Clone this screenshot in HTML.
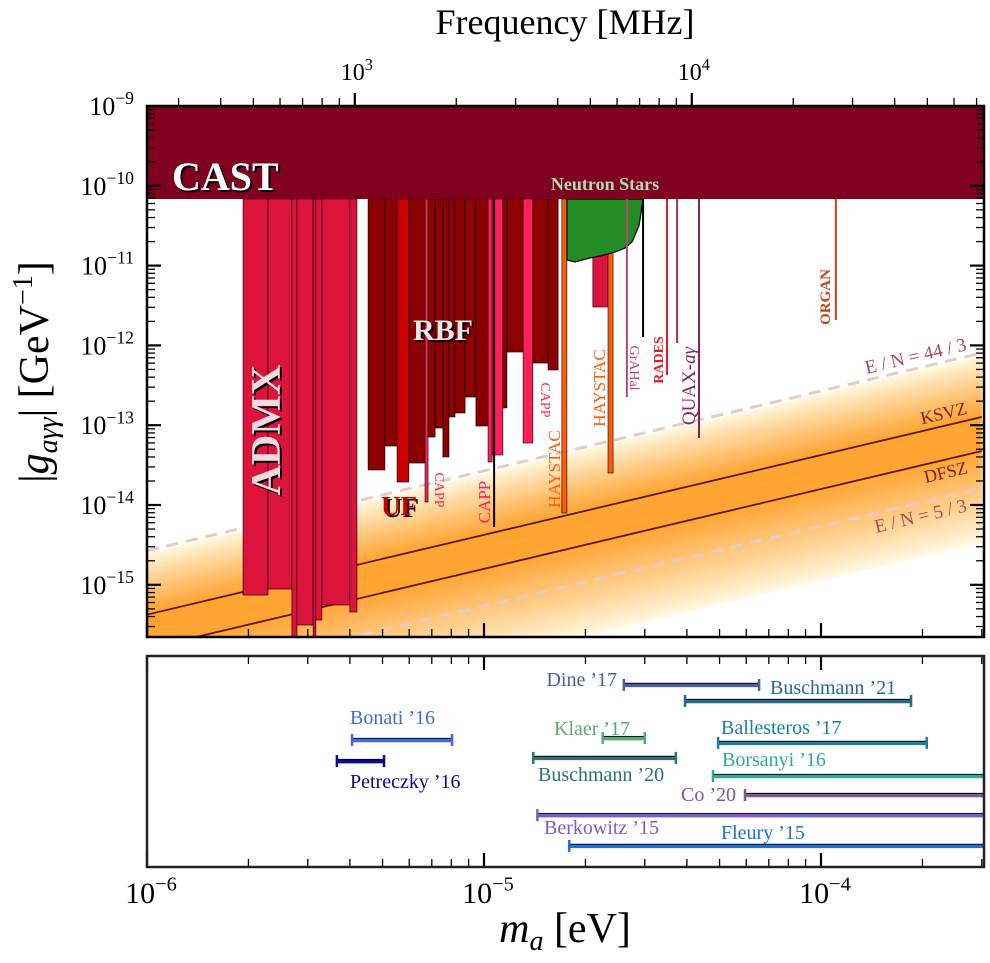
<!DOCTYPE html>
<html><head><meta charset="utf-8">
<style>
html,body{margin:0;padding:0;background:#fff;}
svg{display:block;font-family:"Liberation Serif",serif;}
</style></head>
<body>
<svg id="chart" width="990" height="963" viewBox="0 0 990 963" xmlns="http://www.w3.org/2000/svg">
<defs>
<clipPath id="mainclip"><rect x="147" y="106" width="837" height="531"/></clipPath>
<clipPath id="lowclip"><rect x="147" y="656" width="837" height="211"/></clipPath>
</defs>
<g id="band" clip-path="url(#mainclip)"></g>
<g id="lines" clip-path="url(#mainclip)"></g>
<g id="exps" clip-path="url(#mainclip)"></g>
<rect x="147" y="106" width="837" height="93" fill="#800020"/>
<g id="ticks"></g>
<g id="lowbars" clip-path="url(#lowclip)"></g>
<rect x="147" y="106" width="837" height="531" fill="none" stroke="#000" stroke-width="2.5"/>
<rect x="147" y="656" width="837" height="211" fill="none" stroke="#222" stroke-width="2.5"/>

<!-- labels in main panel -->
<text x="174" y="192" font-size="40" font-weight="bold" fill="#000">CAST</text>
<text x="172" y="190" font-size="40" font-weight="bold" fill="#fff">CAST</text>
<text x="605" y="190" font-size="18" font-weight="bold" fill="#b4dcb4" text-anchor="middle">Neutron Stars</text>
<text transform="translate(282,432) rotate(-90)" font-size="42" font-weight="bold" fill="#000" text-anchor="middle">ADMX</text>
<text transform="translate(280,430) rotate(-90)" font-size="42" font-weight="bold" fill="#f6d8de" text-anchor="middle">ADMX</text>
<text x="445" y="342" font-size="30" font-weight="bold" fill="#000" text-anchor="middle">RBF</text>
<text x="443" y="340" font-size="30" font-weight="bold" fill="#efe6e6" text-anchor="middle">RBF</text>
<text x="401" y="517" font-size="27" font-weight="bold" fill="#000" text-anchor="middle">UF</text>
<text x="399" y="515" font-size="27" font-weight="bold" fill="#c80000" text-anchor="middle">UF</text>
<text transform="translate(435,490) rotate(90)" font-size="14" fill="#ff1f5b" text-anchor="middle">CAPP</text>
<text transform="translate(490,502) rotate(-90)" font-size="17" fill="#ff1f5b" text-anchor="middle">CAPP</text>
<text transform="translate(541,400) rotate(90)" font-size="14" fill="#ff1f5b" text-anchor="middle">CAPP</text>
<text transform="translate(560,469) rotate(-90)" font-size="17" fill="#ff5a0a" text-anchor="middle">HAYSTAC</text>
<text transform="translate(605,388) rotate(-90)" font-size="17" fill="#ff5a0a" text-anchor="middle">HAYSTAC</text>
<text transform="translate(630,368) rotate(90)" font-size="14" fill="#b5476b" text-anchor="middle">GrAHal</text>
<text transform="translate(663,360) rotate(-90)" font-size="14" font-weight="bold" fill="#e0202a" text-anchor="middle">RADES</text>
<text transform="translate(695,386) rotate(-90)" font-size="19" fill="#8b2060" text-anchor="middle">QUAX-<tspan font-style="italic">aγ</tspan></text>
<text transform="translate(830,297) rotate(-90)" font-size="15" font-weight="bold" fill="#c8401a" text-anchor="middle">ORGAN</text>
<text transform="translate(917,362) rotate(-13.3)" font-size="19" fill="#b04858" text-anchor="middle">E / N = 44 / 3</text>
<text transform="translate(945,419) rotate(-13.3)" font-size="18" fill="#8b1a1a" text-anchor="middle">KSVZ</text>
<text transform="translate(947,478) rotate(-13.3)" font-size="18" fill="#8b1a1a" text-anchor="middle">DFSZ</text>
<text transform="translate(922,522) rotate(-13.3)" font-size="19" fill="#b04858" text-anchor="middle">E / N = 5 / 3</text>

<!-- lower panel labels -->
<g font-size="20">
<text x="617" y="686" fill="#4a5fa0" text-anchor="end">Dine ’17</text>
<text x="770" y="694" fill="#276a8a">Buschmann ’21</text>
<text x="554" y="735" fill="#5aa878">Klaer ’17</text>
<text x="721" y="734" fill="#1a7fa0">Ballesteros ’17</text>
<text x="538" y="781" fill="#2f7070">Buschmann ’20</text>
<text x="722" y="766" fill="#30a8a0">Borsanyi ’16</text>
<text x="736" y="801" fill="#7a5a98" text-anchor="end">Co ’20</text>
<text x="544" y="834" fill="#7a5fc8">Berkowitz ’15</text>
<text x="721" y="839" fill="#1e6fd8">Fleury ’15</text>
<text x="350" y="724" fill="#4169e1">Bonati ’16</text>
<text x="350" y="788" fill="#0a0a80">Petreczky ’16</text>
</g>

<!-- axis titles -->
<text x="565" y="34" font-size="36" text-anchor="middle">Frequency [MHz]</text>
<text x="565" y="942" font-size="42" text-anchor="middle"><tspan font-style="italic">m</tspan><tspan font-style="italic" font-size="28" dy="8">a</tspan><tspan dy="-8"> [eV]</tspan></text>
<text transform="translate(48,372) rotate(-90)" font-size="42" text-anchor="middle">|<tspan font-style="italic">g</tspan><tspan font-style="italic" font-size="28" dy="9">aγγ</tspan><tspan dy="-9">| [GeV</tspan><tspan font-size="28" dy="-16">−1</tspan><tspan dy="16">]</tspan></text>
<g id="ticklabels"></g>
</svg>
<script>
// ---- data (log10 values) ----
const yTickExps = [-9,-10,-11,-12,-13,-14,-15];
const xTickExps = [-6,-5,-4];
const freqTickExps = [3,4];
// model lines: log10(g/m) offsets
const modelNames = ['en-44-3','ksvz','dfsz','en-5-3'];
const modelLogC = [-8.572,-9.374,-9.800,-10.265];
// experiment blocks
const expGroup = ['ADMX','ADMX','ADMX','ADMX','ADMX','ADMX','ADMX','ADMX','RBF','RBF','UF','RBF','CAPP','RBF','RBF','RBF','RBF','RBF','RBF','RBF','CAPP','CAPP','RBF','RBF','CAPP','RBF','RBF','HAYSTAC','ADMX','HAYSTAC'];
const expLo   = [-5.715,-5.641,-5.570,-5.555,-5.507,-5.499,-5.481,-5.398,-5.344,-5.294,-5.258,-5.223,-5.175,-5.166,-5.145,-5.122,-5.104,-5.086,-5.056,-5.024,-4.988,-4.976,-4.944,-4.932,-4.884,-4.855,-4.810,-4.769,-4.677,-4.632];
const expHi   = [-5.641,-5.570,-5.555,-5.507,-5.499,-5.481,-5.398,-5.377,-5.294,-5.258,-5.223,-5.175,-5.166,-5.145,-5.122,-5.104,-5.086,-5.056,-5.024,-4.988,-4.976,-4.944,-4.932,-4.884,-4.855,-4.810,-4.780,-4.754,-4.632,-4.617];
const expLim  = [-15.128,-15.053,-15.654,-15.504,-15.654,-15.441,-15.253,-15.341,-13.561,-13.261,-13.712,-13.474,-13.962,-13.148,-13.035,-13.398,-12.897,-12.847,-12.647,-13.010,-13.461,-13.373,-12.784,-12.083,-13.223,-12.221,-12.308,-14.100,-11.519,-13.599];
const castLimit = -10.165;
// neutron star bound profile
const nsLogM = [-4.754,-4.730,-4.686,-4.656,-4.611,-4.582,-4.560,-4.540,-4.528];
const nsLogG = [-10.930,-10.955,-10.905,-10.880,-10.830,-10.780,-10.700,-10.500,-10.178];
// thin line limits
const lineNames = ['capp-thin','haloscope-thin','grahal','rades','rades-2','quax','organ'];
const lineLogM = [-4.970,-4.528,-4.576,-4.457,-4.427,-4.362,-3.956];
const lineLogG = [-14.276,-11.895,-12.647,-12.371,-11.970,-13.160,-11.682];
// predictions (lower panel)
const predNames = ['dine-17','buschmann-21','klaer-17','ballesteros-17','buschmann-20','borsanyi-16','co-20','berkowitz-15','fleury-15','bonati-16','petreczky-16'];
const predLo = [2.60e-5,3.95e-5,2.25e-5,4.95e-5,1.40e-5,4.78e-5,5.95e-5,1.44e-5,1.79e-5,4.06e-6,3.66e-6];
const predHi = [6.55e-5,1.85e-4,3.0e-5,2.06e-4,3.71e-5,1e-3,1e-3,1e-3,1e-3,8.04e-6,5.05e-6];
const predRow = [0.863,0.787,0.611,0.588,0.517,0.431,0.341,0.246,0.100,0.602,0.502];

// ---- styles ----
const groupColor = {ADMX:'#dc143c',RBF:'#8b0000',UF:'#c80000',CAPP:'#ff1f5b',HAYSTAC:'#ff5a0a'};
const lineColor = ['#000','#000','#b5476b','#e0202a','#a0305a','#8b2060','#c8401a'];
const predColor = ['#4a5fa0','#276a8a','#5aa878','#1a7fa0','#2f7070','#30a8a0','#7a5a98','#7a5fc8','#1e6fd8','#4169e1','#0a0a80'];

const NS='http://www.w3.org/2000/svg';
const X = lm => 147 + (lm+6)*337;
const Y = lg => 106 + (-9-lg)*79.8;
const YL = r => 867 - r*211;
function mk(tag, attrs, parent){const e=document.createElementNS(NS,tag);for(const k in attrs)e.setAttribute(k,attrs[k]);parent.appendChild(e);return e;}
const LM0=-6, LM1=Math.log10(3e-4);

// band
const band=document.getElementById('band');
for(let lc=-10.95; lc<-8.62; lc+=0.03){
  let t;
  if(lc>=-9.80 && lc<=-9.374) t=1;
  else if(lc>-9.374) t=1-(lc+9.374)/0.76;
  else t=1-(-9.80-lc)/1.15;
  t=Math.max(0,Math.min(1,t)); t=Math.pow(t,0.9);
  const r=255, g=Math.round(250-(250-162)*t), b=Math.round(228-(228-46)*t);
  const d=0.031;
  const pts=[[X(LM0),Y(lc+LM0)],[X(LM1),Y(lc+LM1)],[X(LM1),Y(lc+d+LM1)],[X(LM0),Y(lc+d+LM0)]].map(p=>p.join(',')).join(' ');
  const p=mk('polygon',{points:pts,fill:`rgb(${r},${g},${b})`},band);
  
  
}
// model lines
const lines=document.getElementById('lines');
modelLogC.forEach((c,i)=>{
  const dashed = (i===0||i===3);
  const l=mk('line',{x1:X(LM0),y1:Y(c+LM0),x2:X(LM1),y2:Y(c+LM1),stroke:dashed?'#e8cbc2':'#5a1a00','stroke-width':dashed?3:1.8,'stroke-dasharray':dashed?'12,8':'none'},lines);
  
  
});
// experiments
const exps=document.getElementById('exps');
expLo.forEach((lo,i)=>{
  const x1=X(lo), x2=X(expHi[i]), y1=Y(castLimit), y2=Y(expLim[i]);
  const r=mk('rect',{x:x1,y:y1,width:x2-x1,height:y2-y1,fill:groupColor[expGroup[i]],stroke:'#000','stroke-width':0.6},exps);
  
  
});
let nsPts=[[X(nsLogM[0]),Y(castLimit)]];
nsLogM.forEach((m,i)=>nsPts.push([X(m),Y(nsLogG[i])]));
nsPts.push([X(nsLogM[nsLogM.length-1]),Y(castLimit)]);
const ns=mk('polygon',{points:nsPts.map(p=>p.join(',')).join(' '),fill:'#228b22',stroke:'#000','stroke-width':1.2},exps);


lineLogM.forEach((m,i)=>{
  const l=mk('line',{x1:X(m),y1:Y(castLimit),x2:X(m),y2:Y(lineLogG[i]),stroke:lineColor[i],'stroke-width':2},exps);
  
  
});
// ticks
const ticks=document.getElementById('ticks');
function tk(x1,y1,x2,y2,w){const l=mk('line',{x1,y1,x2,y2,stroke:'#000','stroke-width':w||1.3},ticks);}
for(let e=-6;e<-3;e++){for(let k=1;k<10;k++){const lm=e+Math.log10(k);if(lm>LM1)break;const x=X(lm);const L=k===1?14:8;
  tk(x,637,x,637-L,k===1?2.2:1.3);tk(x,656,x,656+L,k===1?2.2:1.3);tk(x,867,x,867-L,k===1?2.2:1.3);}}
for(let e=-16;e<-9;e++){for(let k=1;k<10;k++){const lg=e+Math.log10(k);const y=Y(lg);if(y<106||y>637)continue;const L=k===1?14:8;
  tk(147,y,147+L,y,k===1?2.2:1.3);tk(984,y,984-L,y,k===1?2.2:1.3);}}
for(let e=2;e<6;e++){for(let k=1;k<10;k++){const lm=e+Math.log10(k)-8.3834;if(lm<LM0||lm>LM1)continue;const x=X(lm);
  tk(x,106,x,k===1?93:98,k===1?2.2:1.3);}}
// tick labels
const tl=document.getElementById('ticklabels');
function lab(x,y,exp,fs,anchor,name){const t=mk('text',{x,y,'font-size':fs,'text-anchor':anchor},tl);
  t.appendChild(document.createTextNode('10'));const s=mk('tspan',{'font-size':fs*0.68,dy:-fs*0.42},t);s.textContent=(exp<0?'−':'')+Math.abs(exp);}
yTickExps.forEach(e=>lab(134,Y(e)+9,e,26,'end','y-tick-label'));
xTickExps.forEach(e=>lab(X(e)+4,903,e,30,'middle','x-tick-label'));
freqTickExps.forEach(e=>lab(X(e-8.3834)+2,80,e,24,'middle','freq-tick-label'));
// predictions
const lb=document.getElementById('lowbars');
predLo.forEach((lo,i)=>{
  const x1=X(Math.log10(lo)), x2=X(Math.log10(predHi[i])), y=YL(predRow[i]);
  const g=mk('g',{},lb);
  
  
  mk('line',{x1,y1:y,x2,y2:y,stroke:predColor[i],'stroke-width':4.5},g);
  mk('line',{x1,y1:y-1.5,x2,y2:y-1.5,stroke:'#000','stroke-width':0.8},g);
  mk('line',{x1,y1:y-6,x2:x1,y2:y+6,stroke:predColor[i],'stroke-width':2.5},g);
  mk('line',{x1:x2,y1:y-6,x2:x2,y2:y+6,stroke:predColor[i],'stroke-width':2.5},g);
});
</script>
</body></html>
